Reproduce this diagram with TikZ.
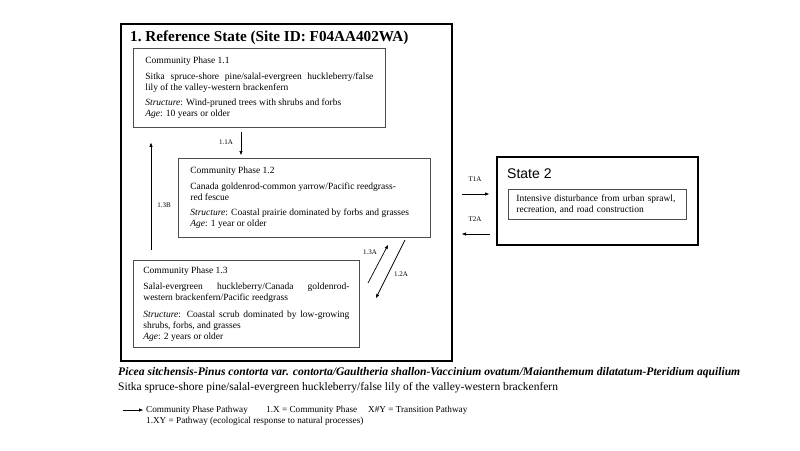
\documentclass[tikz,border=0pt]{standalone}
\usepackage{fontspec}
\setmainfont{Liberation Serif}
\newfontfamily\statefont{Liberation Sans}
\usetikzlibrary{arrows.meta, positioning, calc}

\tikzset{
    frame/.style={draw, line width=2pt, anchor=north west, inner sep=0pt},
    phase/.style={draw=black!70, line width=0.8pt, anchor=north west, align=justify,
        inner xsep=12pt, inner ysep=0pt, font=\fontsize{9.5}{10.8}\selectfont},
    pathway/.style={-{Triangle[length=4pt,width=3pt]}, line width=0.7pt},
    lbl/.style={font=\fontsize{7}{8}\selectfont, inner sep=0pt},
    key/.style={font=\fontsize{9.2}{10}\selectfont, inner sep=0pt, anchor=west}
}

\begin{document}
\begin{tikzpicture}[x=1pt, y=-1pt]
    \useasboundingbox (0,0) rectangle (800,450);
    % reference state
    \node[frame, minimum width=331pt, minimum height=337pt] (rs) at (120,23) {};
    \node[anchor=west, inner sep=0pt, font=\bfseries\fontsize{15.2}{18}\selectfont] (title) at (130,38)
        {1.\ Reference State (Site ID: F04AA402WA)};

    \node[phase, text width=228pt, minimum height=79pt] (p11) at (133,48) {Community Phase 1.1\\[5pt]
        Sitka spruce-shore pine/salal-evergreen huckleberry/false\linebreak lily of the valley-western brackenfern\\[5pt]
        \textit{Structure}: Wind-pruned trees with shrubs and forbs\\ \textit{Age}: 10 years or older};
    \node[phase, text width=228pt, minimum height=79pt] (p12) at (178,158) {Community Phase 1.2\\[5pt]
        Canada goldenrod-common yarrow/Pacific reedgrass-\\ red fescue\\[5pt]
        \textit{Structure}: Coastal prairie dominated by forbs and grasses\\ \textit{Age}: 1 year or older};
    \node[phase, inner xsep=10pt, text width=206pt, minimum height=87pt] (p13) at (133,260) {Community Phase 1.3\\[6pt]
        Salal-evergreen huckleberry/Canada goldenrod-\linebreak western brackenfern/Pacific reedgrass\\[6pt]
        \textit{Structure}: Coastal scrub dominated by low-growing\linebreak shrubs, forbs, and grasses\\
        \textit{Age}: 2 years or older};

    % community pathways
    \coordinate (c11a) at (241,0);
    \coordinate (c13b) at (151,0);
    \draw[pathway, shorten <=4pt, shorten >=3pt] (p11.south -| c11a) -- (p12.north -| c11a);
    \draw[pathway, shorten <=10pt, shorten >=15pt] (p13.north -| c13b) -- (p11.south -| c13b);
    \node[lbl] (l11a) at (226,142) {1.1A};
    \node[lbl] (l13b) at (164,205) {1.3B};

    \coordinate (a13s) at (368,283);
    \coordinate (a13e) at (388,245);
    \coordinate (a12s) at (405,240);
    \coordinate (a12e) at (376,298);
    \draw[pathway] (a13s) -- (a13e);
    \draw[pathway] (a12s) -- (a12e);
    \node[lbl] (l13a) at (370,252) {1.3A};
    \node[lbl] (l12a) at (401,274) {1.2A};

    % state 2
    \node[frame, minimum width=201pt, minimum height=88pt] (s2) at (496,156) {};
    \node[anchor=west, inner sep=0pt, font=\statefont\fontsize{14}{16}\selectfont] (s2t) at (507,174) {State 2};
    \node[phase, align=left, inner xsep=8pt, text width=162pt, minimum height=30pt] (s2d) at (508,189)
        {Intensive disturbance from urban sprawl,\\ recreation, and road construction};

    % transitions
    \coordinate (t1) at (0,194);
    \coordinate (t2) at (0,234);
    \draw[pathway, shorten <=9pt, shorten >=7pt] (rs.east |- t1) -- (s2.west |- t1);
    \draw[pathway, shorten <=6pt, shorten >=9pt] (s2.west |- t2) -- (rs.east |- t2);
    \node[lbl] (lt1a) at (475,179) {T1A};
    \node[lbl] (lt2a) at (475,219) {T2A};

    % names
    \node[anchor=west, inner sep=0pt, font=\bfseries\itshape\fontsize{11.6}{13}\selectfont] (sci) at (118,373)
        {Picea sitchensis-Pinus contorta var. contorta/Gaultheria shallon-Vaccinium ovatum/Maianthemum dilatatum-Pteridium aquilium};
    \node[anchor=west, inner sep=0pt, font=\fontsize{11.5}{13}\selectfont] (com) at (118,388)
        {Sitka spruce-shore pine/salal-evergreen huckleberry/false lily of the valley-western brackenfern};

    % legend
    \coordinate (k0) at (123,410);
    \coordinate (k1) at (143,410);
    \draw[pathway] (k0) -- (k1);
    \node[key, right=3pt of k1] (k1t) {Community Phase Pathway};
    \node[key] (k2t) at (266,410) {1.X = Community Phase};
    \node[key] (k3t) at (368,410) {X\#Y = Transition Pathway};
    \node[key] (k4t) at (146,421) {1.XY = Pathway (ecological response to natural processes)};
\end{tikzpicture}
\end{document}
